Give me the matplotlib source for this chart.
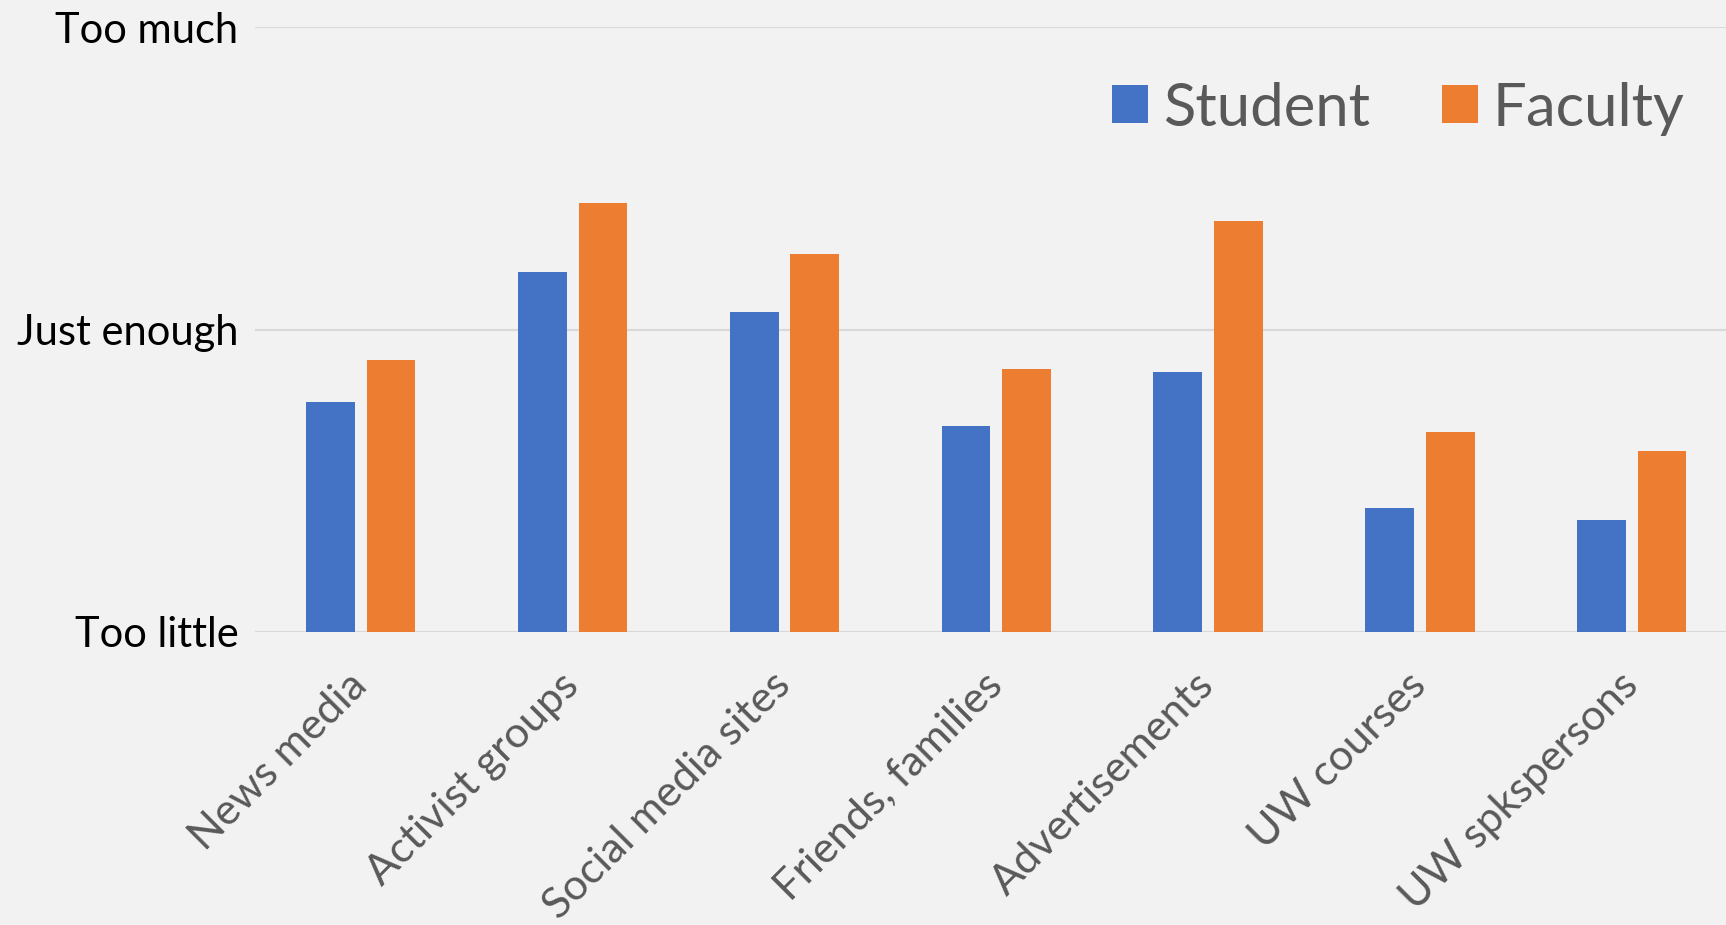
import numpy as np
import matplotlib.pyplot as plt

plt.rcParams['font.family'] = ['Lato', 'DejaVu Sans']

# Data
categories = ['News media', 'Activist groups', 'Social media sites', 'Friends, families',
              'Advertisements', 'UW courses', 'UW spkspersons']
student = [1.76, 2.19, 2.06, 1.68, 1.86, 1.41, 1.37]
faculty = [1.90, 2.42, 2.25, 1.87, 2.36, 1.66, 1.60]
level_values = [1, 2, 3]
level_labels = ['Too little', 'Just enough', 'Too much']

bg = '#F2F2F2'
fig = plt.figure(figsize=(17.26, 9.25), dpi=100, facecolor=bg)
ax = fig.add_axes([0.1477, 0.3168, 0.859, 0.6535], facecolor=bg)

x = np.arange(len(categories))
w = 0.23
ax.bar(x - 0.143, np.array(student) - 1, w, bottom=1, color='#4472C4', label='Student', zorder=3)
ax.bar(x + 0.143, np.array(faculty) - 1, w, bottom=1, color='#ED7D31', label='Faculty', zorder=3)

ax.set_xlim(-0.5, len(categories) - 0.5)
ax.set_ylim(1, 3)
ax.set_yticks(level_values)
ax.set_yticklabels(level_labels, fontsize=30, color='black')
ax.set_xticks(x)
ax.set_xticklabels(categories, fontsize=31, color='#595959', rotation=45,
                   ha='right', va='center', rotation_mode='anchor')
ax.tick_params(axis='both', length=0)
ax.tick_params(axis='y', pad=12)
ax.tick_params(axis='x', pad=34)
ax.grid(axis='y', color='#D9D9D9', linewidth=1.5, zorder=0)
ax.set_axisbelow(True)
for s in ax.spines.values():
    s.set_visible(False)

leg = fig.legend(loc='upper right', bbox_to_anchor=(1.007, 0.97), ncol=2, frameon=False,
                 fontsize=43, handlelength=0.6, handleheight=0.6, columnspacing=1.2,
                 handletextpad=0.25)
for t in leg.get_texts():
    t.set_color('#595959')

plt.savefig('out.png', dpi=100, facecolor=bg)
